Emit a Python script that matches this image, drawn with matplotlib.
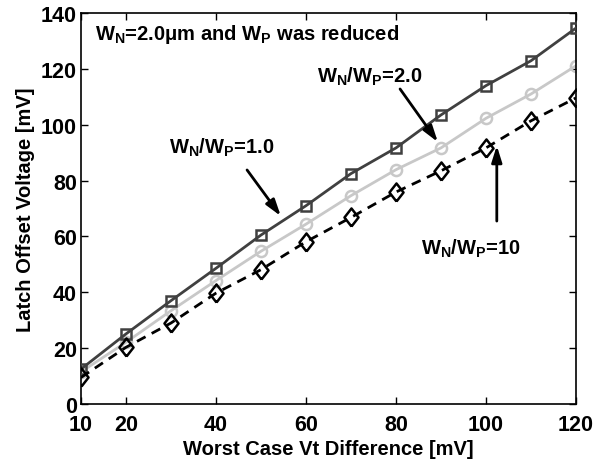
import matplotlib
matplotlib.use('Agg')
import matplotlib.pyplot as plt

# --- data ---
vt_diff = [10, 20, 30, 40, 50, 60, 70, 80, 90, 100, 110, 120]
ratio_1 = [12.5, 25.1, 37.0, 48.6, 60.5, 71.0, 82.5, 91.7, 103.5, 114.0, 122.9, 134.6]
ratio_2 = [11.5, 22.1, 33.4, 44.2, 54.7, 64.4, 74.6, 83.9, 91.7, 102.3, 111.0, 121.1]
ratio_10 = [9.5, 20.3, 29.0, 39.7, 48.1, 58.1, 66.8, 75.9, 83.5, 91.7, 101.4, 109.6]
x_ticks = [10, 20, 40, 60, 80, 100, 120]
y_ticks = [0, 20, 40, 60, 80, 100, 120, 140]

plt.rcParams['font.family'] = ['Liberation Sans', 'DejaVu Sans']
plt.rcParams['font.weight'] = 'bold'
plt.rcParams['mathtext.fontset'] = 'custom'
plt.rcParams['mathtext.rm'] = 'Liberation Sans:bold'
plt.rcParams['mathtext.bf'] = 'Liberation Sans:bold'
plt.rcParams['mathtext.default'] = 'bf'

fig = plt.figure(figsize=(6.01, 4.6), dpi=100)
ax = fig.add_axes([81 / 601, 55 / 460, 495 / 601, 391 / 460])

# MATLAB-like diamond: a bit taller than wide
diamond = [(0, -1), (0.78, 0), (0, 1), (-0.78, 0), (0, -1)]

ax.plot(vt_diff, ratio_2, color='#c8c8c8', lw=2, marker='o', ms=8, mfc='none', mew=1.8, zorder=2)
ax.plot(vt_diff, ratio_1, color='#404040', lw=2, marker='s', ms=6.5, mfc='none', mew=1.8, zorder=3)
ax.plot(vt_diff, ratio_10, color='black', lw=2, ls=(0, (3.5, 2.5)), marker=diamond, ms=13, mfc='none', mew=1.8, zorder=4)

ax.set_xlim(10, 120)
ax.set_ylim(0, 140)
ax.set_xticks(x_ticks)
ax.set_yticks(y_ticks)
ax.tick_params(direction='in', labelsize=15.5, width=1, length=5, top=True, right=True)
ax.tick_params(axis='x', pad=7)
ax.tick_params(axis='y', pad=3)
for lbl in ax.get_xticklabels() + ax.get_yticklabels():
    lbl.set_fontweight('bold')
for sp in ax.spines.values():
    sp.set_linewidth(1.2)

ax.set_xlabel('Worst Case Vt Difference [mV]', fontsize=14.5, fontweight='bold', labelpad=3)
ax.set_ylabel('Latch Offset Voltage [mV]', fontsize=14.5, fontweight='bold', labelpad=4)

ax.text(13.1, 132.5, r'W$_{N}$=2.0μm and W$_{P}$ was reduced', fontsize=14.5, fontweight='bold', va='center', ha='left')

arrow = dict(arrowstyle='-|>,head_length=0.7,head_width=0.22', color='black', lw=2,
             mutation_scale=14, shrinkA=0, shrinkB=0)
ax.annotate('', xy=(54.4, 67.3), xytext=(46.9, 83.8), arrowprops=arrow)
ax.text(41.3, 92, r'W$_{N}$/W$_{P}$=1.0', fontsize=14.5, fontweight='bold', ha='center', va='center')

ax.annotate('', xy=(89.3, 93.8), xytext=(80.9, 112.8), arrowprops=arrow)
ax.text(74.2, 117.5, r'W$_{N}$/W$_{P}$=2.0', fontsize=14.5, fontweight='bold', ha='center', va='center')

ax.annotate('', xy=(102.4, 92.5), xytext=(102.4, 65.5), arrowprops=arrow)
ax.text(96.7, 56, r'W$_{N}$/W$_{P}$=10', fontsize=14.5, fontweight='bold', ha='center', va='center')

fig.savefig('out.png', dpi=100)
